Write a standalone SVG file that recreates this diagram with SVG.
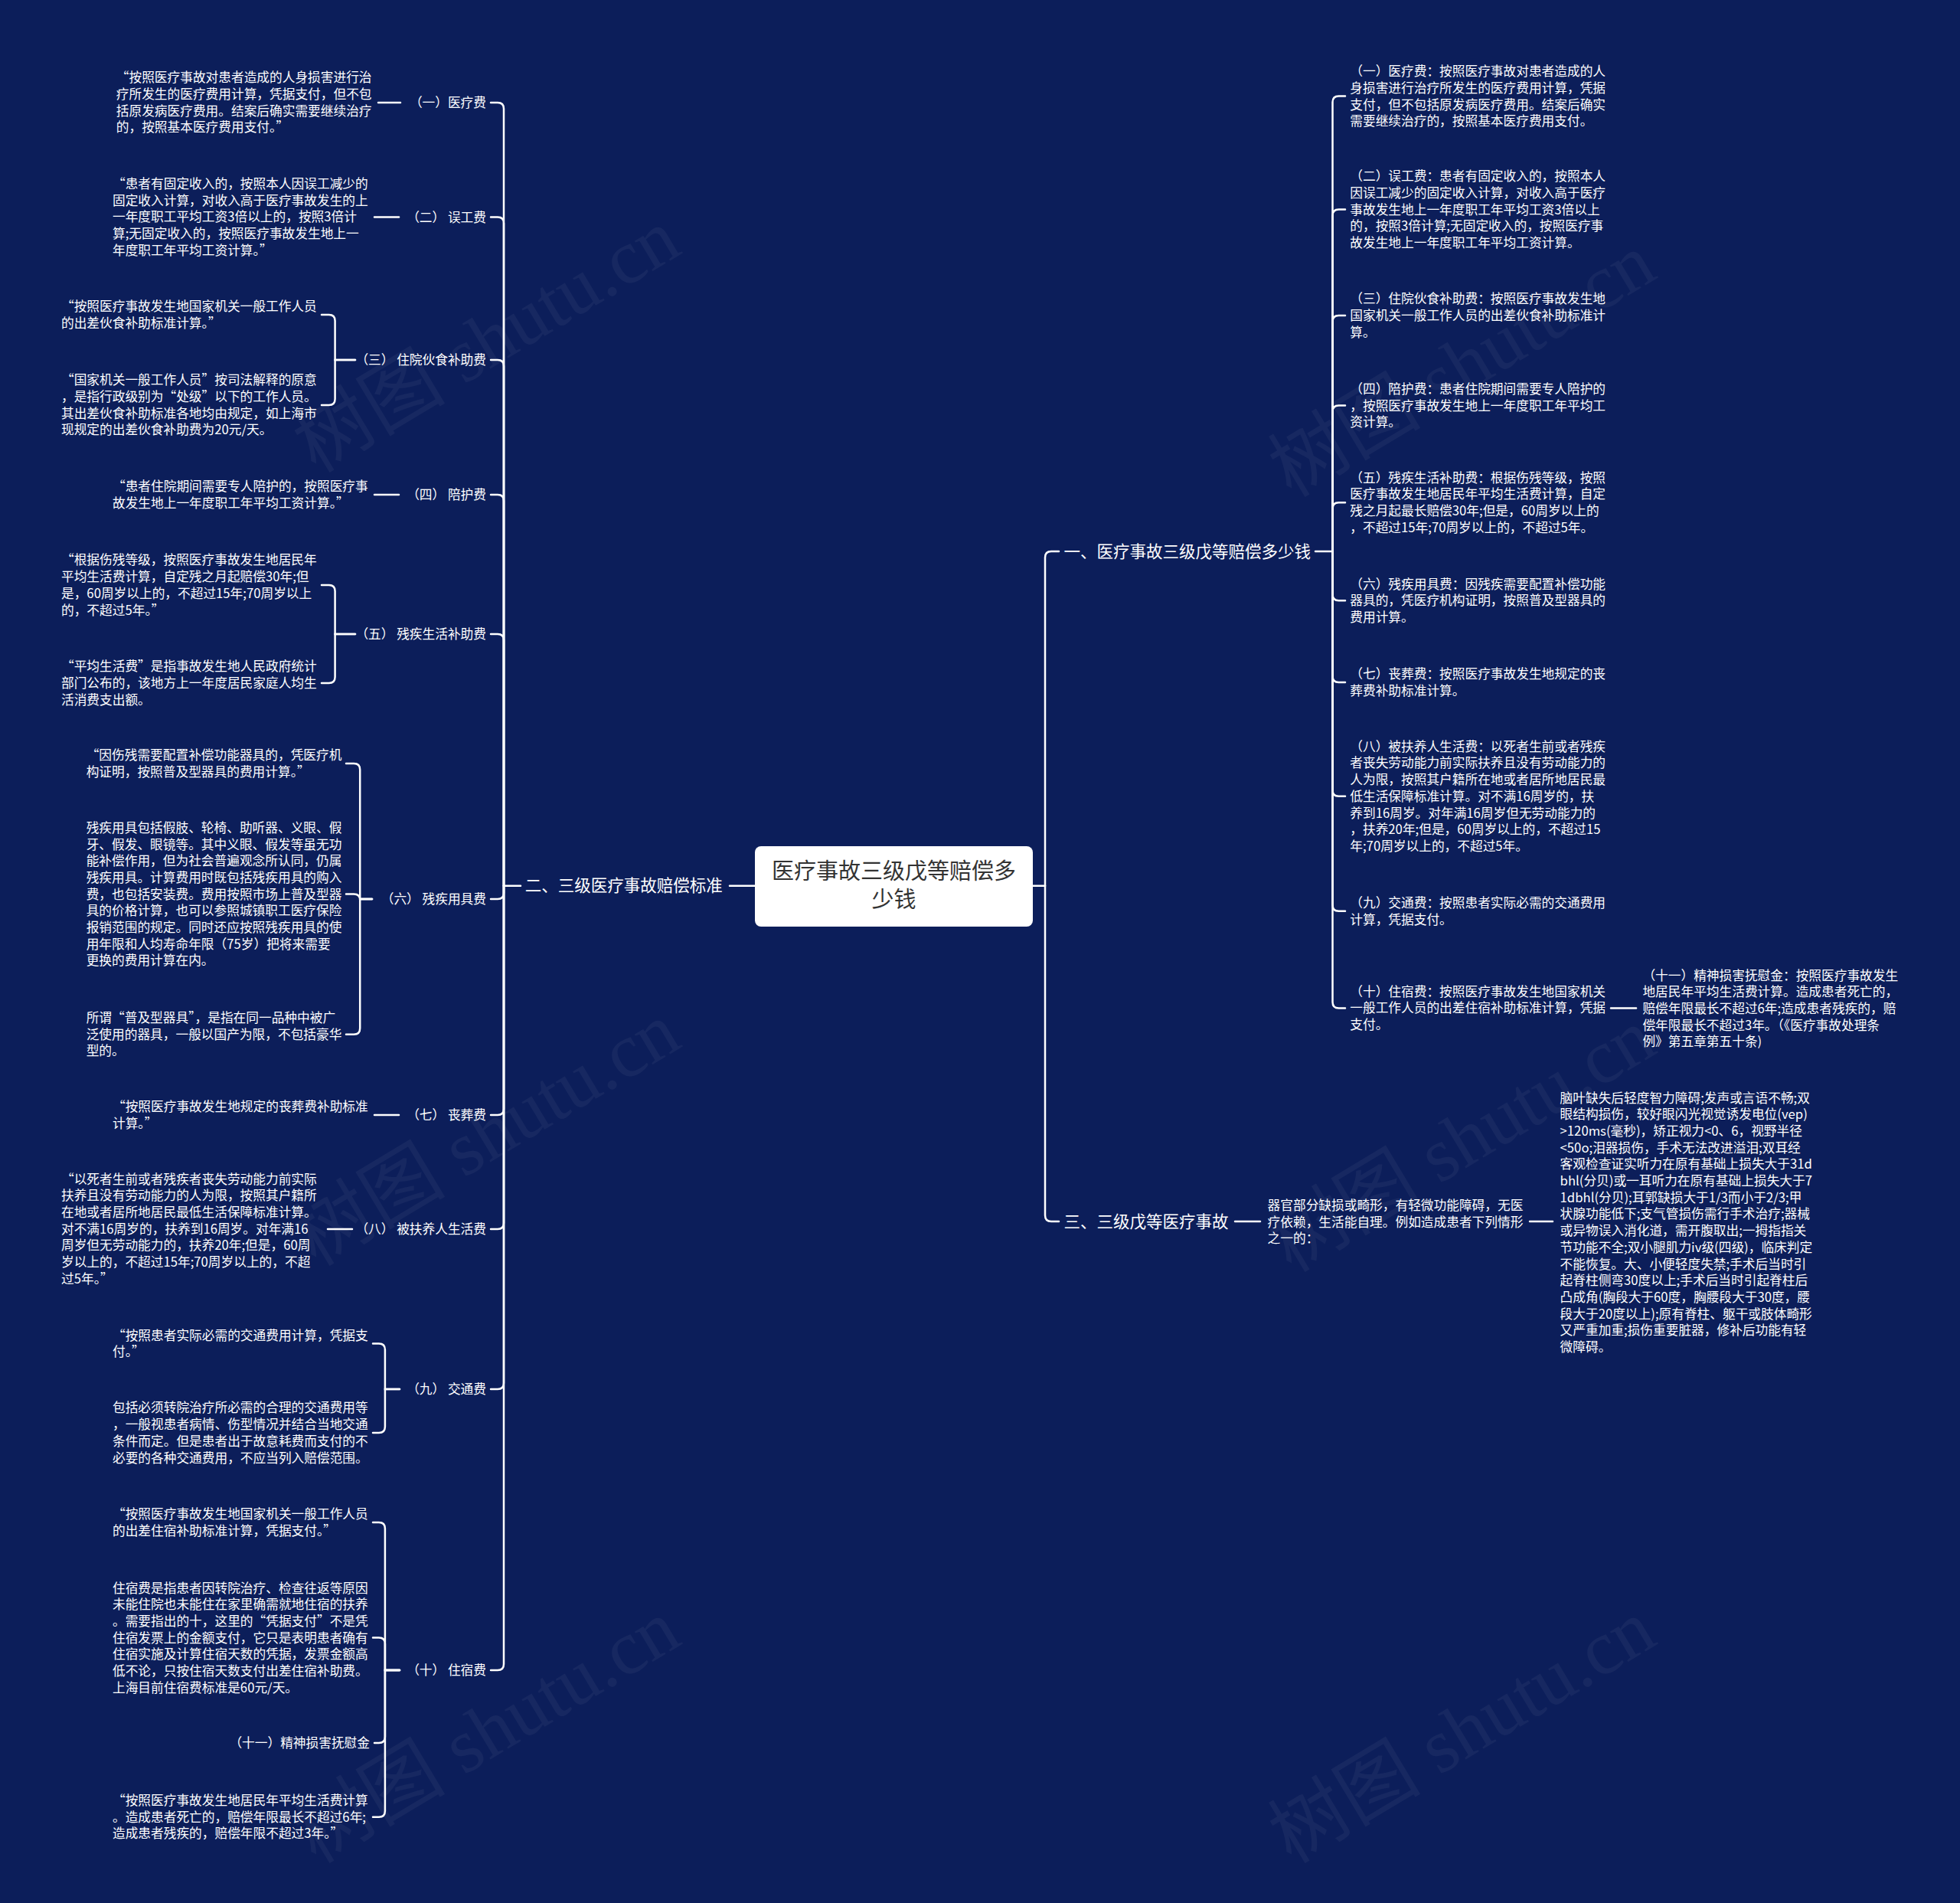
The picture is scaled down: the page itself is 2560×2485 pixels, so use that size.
<svg xmlns="http://www.w3.org/2000/svg" width="2560" height="2485" viewBox="0 0 2560 2485">
<style>
.bg{fill:#0c1e5a}
.t{font-family:"Noto Sans CJK SC","Noto Sans",sans-serif;font-size:16.7px;fill:#ffffff}
.lab{font-family:"Noto Sans CJK SC","Noto Sans",sans-serif;font-size:16.7px;fill:#ffffff;text-anchor:end}
.br{font-family:"Noto Sans CJK SC","Noto Sans",sans-serif;font-size:21.5px;fill:#ffffff}
.ctr{font-family:"Noto Sans CJK SC","Noto Sans",sans-serif;font-size:29px;fill:#333333;text-anchor:middle}
.wm{font-family:"Liberation Serif","Noto Sans CJK SC",serif;font-size:100px;fill:#ffffff;opacity:0.045}
.ln{fill:none;stroke:#ffffff;stroke-width:2.5;stroke-linecap:round}
</style>
<rect class="bg" x="0" y="0" width="2560" height="2485"/>
<g id="watermarks">
<text class="wm" x="653" y="474" text-anchor="middle" transform="rotate(-31 653 474)">树图 shutu.cn</text>
<text class="wm" x="1927" y="506" text-anchor="middle" transform="rotate(-31 1927 506)">树图 shutu.cn</text>
<text class="wm" x="653" y="1510" text-anchor="middle" transform="rotate(-31 653 1510)">树图 shutu.cn</text>
<text class="wm" x="1927" y="1518" text-anchor="middle" transform="rotate(-31 1927 1518)">树图 shutu.cn</text>
<text class="wm" x="653" y="2290" text-anchor="middle" transform="rotate(-31 653 2290)">树图 shutu.cn</text>
<text class="wm" x="1927" y="2290" text-anchor="middle" transform="rotate(-31 1927 2290)">树图 shutu.cn</text>
</g>
<g id="connectors">
<path class="ln" d="M986,1156.7 H953"/>
<path class="ln" d="M1349,1156.7 H1365"/>
<path class="ln" d="M1365,1156.7 V728 Q1365,720 1373,720 H1383"/>
<path class="ln" d="M1365,1156.7 V1587 Q1365,1595 1373,1595 H1383"/>
<path class="ln" d="M680,1156.7 H658"/>
<path class="ln" d="M658,1156.7 V142 Q658,134 650,134 H641"/>
<path class="ln" d="M658,1156.7 V291.5 Q658,283.5 650,283.5 H641"/>
<path class="ln" d="M658,1156.7 V478 Q658,470 650,470 H641"/>
<path class="ln" d="M658,1156.7 V654 Q658,646 650,646 H641"/>
<path class="ln" d="M658,1156.7 V836 Q658,828 650,828 H641"/>
<path class="ln" d="M658,1156.7 V1166 Q658,1174 650,1174 H641"/>
<path class="ln" d="M658,1156.7 V1448 Q658,1456 650,1456 H641"/>
<path class="ln" d="M658,1156.7 V1597 Q658,1605 650,1605 H641"/>
<path class="ln" d="M658,1156.7 V1806 Q658,1814 650,1814 H641"/>
<path class="ln" d="M658,1156.7 V2173 Q658,2181 650,2181 H641"/>
<path class="ln" d="M494,134 H523"/>
<path class="ln" d="M489,283.5 H521"/>
<path class="ln" d="M489,646 H521"/>
<path class="ln" d="M489,1456 H521"/>
<path class="ln" d="M428,1605 H460"/>
<path class="ln" d="M464,470 H437.6 V419 Q437.6,411 429.6,411 H420"/>
<path class="ln" d="M464,470 H437.6 V521 Q437.6,529 429.6,529 H420"/>
<path class="ln" d="M464,828 H437.6 V772 Q437.6,764 429.6,764 H420"/>
<path class="ln" d="M464,828 H437.6 V884 Q437.6,892 429.6,892 H420"/>
<path class="ln" d="M486,1174 H470.2 V1005 Q470.2,997 462.2,997 H452"/>
<path class="ln" d="M486,1174 H470.2 V1175.6 Q470.2,1167.6 462.2,1167.6 H452"/>
<path class="ln" d="M486,1174 H470.2 V1342.7 Q470.2,1350.7 462.2,1350.7 H452"/>
<path class="ln" d="M522,1814 H502.9 V1762.6 Q502.9,1754.6 494.9,1754.6 H487"/>
<path class="ln" d="M522,1814 H502.9 V1863 Q502.9,1871 494.9,1871 H487"/>
<path class="ln" d="M522,2181 H502.9 V1996 Q502.9,1988 494.9,1988 H487"/>
<path class="ln" d="M522,2181 H502.9 V2146.6 Q502.9,2138.6 494.9,2138.6 H487"/>
<path class="ln" d="M522,2181 H502.9 V2267.9 Q502.9,2275.9 494.9,2275.9 H489"/>
<path class="ln" d="M522,2181 H502.9 V2364.7 Q502.9,2372.7 494.9,2372.7 H487"/>
<path class="ln" d="M1718,720 H1740.5"/>
<path class="ln" d="M1740.5,720 V133.6 Q1740.5,125.6 1748.5,125.6 H1757"/>
<path class="ln" d="M1740.5,720 V281.6 Q1740.5,273.6 1748.5,273.6 H1757"/>
<path class="ln" d="M1740.5,720 V419.9 Q1740.5,411.9 1748.5,411.9 H1757"/>
<path class="ln" d="M1740.5,720 V537.5 Q1740.5,529.5 1748.5,529.5 H1757"/>
<path class="ln" d="M1740.5,720 V664.2 Q1740.5,656.2 1748.5,656.2 H1757"/>
<path class="ln" d="M1740.5,720 V776.2 Q1740.5,784.2 1748.5,784.2 H1757"/>
<path class="ln" d="M1740.5,720 V882.9 Q1740.5,890.9 1748.5,890.9 H1757"/>
<path class="ln" d="M1740.5,720 V1031.8 Q1740.5,1039.8 1748.5,1039.8 H1757"/>
<path class="ln" d="M1740.5,720 V1181.7 Q1740.5,1189.7 1748.5,1189.7 H1757"/>
<path class="ln" d="M1740.5,720 V1308.4 Q1740.5,1316.4 1748.5,1316.4 H1757"/>
<path class="ln" d="M2104,1316.4 H2137"/>
<path class="ln" d="M1613,1595 H1646"/>
<path class="ln" d="M1998,1595 H2028"/>
</g>
<g id="center">
<rect x="986" y="1105" width="363" height="105" rx="8" fill="#ffffff"/>
<text class="ctr" x="1167.5" y="1148">医疗事故三级戊等赔偿多</text>
<text class="ctr" x="1167.5" y="1185">少钱</text>
</g>
<g id="branch-left">
<text class="br" x="685.7" y="1164.4">二、三级医疗事故赔偿标准</text>
</g>
<g id="branch-right-1">
<text class="br" x="1389.4" y="727.7">一、医疗事故三级戊等赔偿多少钱</text>
</g>
<g id="branch-right-3">
<text class="br" x="1389.4" y="1602.7">三、三级戊等医疗事故</text>
</g>
<g id="left-labels">
<text class="lab" x="635" y="140">（一）医疗费</text>
<text class="lab" x="635" y="289.5">（二） 误工费</text>
<text class="lab" x="635" y="476">（三） 住院伙食补助费</text>
<text class="lab" x="635" y="652">（四） 陪护费</text>
<text class="lab" x="635" y="834">（五） 残疾生活补助费</text>
<text class="lab" x="635" y="1180">（六） 残疾用具费</text>
<text class="lab" x="635" y="1462">（七） 丧葬费</text>
<text class="lab" x="635" y="1611">（八） 被扶养人生活费</text>
<text class="lab" x="635" y="1820">（九） 交通费</text>
<text class="lab" x="635" y="2187">（十） 住宿费</text>
</g>
<g id="leaf-1"><text class="t" x="151.8" y="107.2"><tspan x="151.8">“按照医疗事故对患者造成的人身损害进行治</tspan><tspan x="151.8" dy="21.7">疗所发生的医疗费用计算，凭据支付，但不包</tspan><tspan x="151.8" dy="21.7">括原发病医疗费用。结案后确实需要继续治疗</tspan><tspan x="151.8" dy="21.7">的，按照基本医疗费用支付。”</tspan></text></g>
<g id="leaf-2"><text class="t" x="147" y="246"><tspan x="147">“患者有固定收入的，按照本人因误工减少的</tspan><tspan x="147" dy="21.7">固定收入计算，对收入高于医疗事故发生的上</tspan><tspan x="147" dy="21.7">一年度职工平均工资3倍以上的，按照3倍计</tspan><tspan x="147" dy="21.7">算;无固定收入的，按照医疗事故发生地上一</tspan><tspan x="147" dy="21.7">年度职工年平均工资计算。”</tspan></text></g>
<g id="leaf-3a"><text class="t" x="80" y="406"><tspan x="80">“按照医疗事故发生地国家机关一般工作人员</tspan><tspan x="80" dy="21.7">的出差伙食补助标准计算。”</tspan></text></g>
<g id="leaf-3b"><text class="t" x="80" y="502.3"><tspan x="80">“国家机关一般工作人员”按司法解释的原意</tspan><tspan x="80" dy="21.7">，是指行政级别为“处级”以下的工作人员。</tspan><tspan x="80" dy="21.7">其出差伙食补助标准各地均由规定，如上海市</tspan><tspan x="80" dy="21.7">现规定的出差伙食补助费为20元/天。</tspan></text></g>
<g id="leaf-4"><text class="t" x="147" y="641.1"><tspan x="147">“患者住院期间需要专人陪护的，按照医疗事</tspan><tspan x="147" dy="21.7">故发生地上一年度职工年平均工资计算。”</tspan></text></g>
<g id="leaf-5a"><text class="t" x="80" y="737.4"><tspan x="80">“根据伤残等级，按照医疗事故发生地居民年</tspan><tspan x="80" dy="21.7">平均生活费计算，自定残之月起赔偿30年;但</tspan><tspan x="80" dy="21.7">是，60周岁以上的，不超过15年;70周岁以上</tspan><tspan x="80" dy="21.7">的，不超过5年。”</tspan></text></g>
<g id="leaf-5b"><text class="t" x="80" y="876.2"><tspan x="80">“平均生活费”是指事故发生地人民政府统计</tspan><tspan x="80" dy="21.7">部门公布的，该地方上一年度居民家庭人均生</tspan><tspan x="80" dy="21.7">活消费支出额。</tspan></text></g>
<g id="leaf-6a"><text class="t" x="112.7" y="992.2"><tspan x="112.7">“因伤残需要配置补偿功能器具的，凭医疗机</tspan><tspan x="112.7" dy="21.7">构证明，按照普及型器具的费用计算。”</tspan></text></g>
<g id="leaf-6b"><text class="t" x="112.7" y="1086.8"><tspan x="112.7">残疾用具包括假肢、轮椅、助听器、义眼、假</tspan><tspan x="112.7" dy="21.7">牙、假发、眼镜等。其中义眼、假发等虽无功</tspan><tspan x="112.7" dy="21.7">能补偿作用，但为社会普遍观念所认同，仍属</tspan><tspan x="112.7" dy="21.7">残疾用具。计算费用时既包括残疾用具的购入</tspan><tspan x="112.7" dy="21.7">费，也包括安装费。费用按照市场上普及型器</tspan><tspan x="112.7" dy="21.7">具的价格计算，也可以参照城镇职工医疗保险</tspan><tspan x="112.7" dy="21.7">报销范围的规定。同时还应按照残疾用具的使</tspan><tspan x="112.7" dy="21.7">用年限和人均寿命年限（75岁）把将来需要</tspan><tspan x="112.7" dy="21.7">更换的费用计算在内。</tspan></text></g>
<g id="leaf-6c"><text class="t" x="112.7" y="1335"><tspan x="112.7">所谓“普及型器具”，是指在同一品种中被广</tspan><tspan x="112.7" dy="21.7">泛使用的器具，一般以国产为限，不包括豪华</tspan><tspan x="112.7" dy="21.7">型的。</tspan></text></g>
<g id="leaf-7"><text class="t" x="147" y="1450.9"><tspan x="147">“按照医疗事故发生地规定的丧葬费补助标准</tspan><tspan x="147" dy="21.7">计算。”</tspan></text></g>
<g id="leaf-8"><text class="t" x="80" y="1545.6"><tspan x="80">“以死者生前或者残疾者丧失劳动能力前实际</tspan><tspan x="80" dy="21.7">扶养且没有劳动能力的人为限，按照其户籍所</tspan><tspan x="80" dy="21.7">在地或者居所地居民最低生活保障标准计算。</tspan><tspan x="80" dy="21.7">对不满16周岁的，扶养到16周岁。对年满16</tspan><tspan x="80" dy="21.7">周岁但无劳动能力的，扶养20年;但是，60周</tspan><tspan x="80" dy="21.7">岁以上的，不超过15年;70周岁以上的，不超</tspan><tspan x="80" dy="21.7">过5年。”</tspan></text></g>
<g id="leaf-9a"><text class="t" x="147" y="1749.7"><tspan x="147">“按照患者实际必需的交通费用计算，凭据支</tspan><tspan x="147" dy="21.7">付。”</tspan></text></g>
<g id="leaf-9b"><text class="t" x="147" y="1844.4"><tspan x="147">包括必须转院治疗所必需的合理的交通费用等</tspan><tspan x="147" dy="21.7">，一般视患者病情、伤型情况并结合当地交通</tspan><tspan x="147" dy="21.7">条件而定。但是患者出于故意耗费而支付的不</tspan><tspan x="147" dy="21.7">必要的各种交通费用，不应当列入赔偿范围。</tspan></text></g>
<g id="leaf-10a"><text class="t" x="147" y="1983.2"><tspan x="147">“按照医疗事故发生地国家机关一般工作人员</tspan><tspan x="147" dy="21.7">的出差住宿补助标准计算，凭据支付。”</tspan></text></g>
<g id="leaf-10b"><text class="t" x="147" y="2079.5"><tspan x="147">住宿费是指患者因转院治疗、检查往返等原因</tspan><tspan x="147" dy="21.7">未能住院也未能住在家里确需就地住宿的扶养</tspan><tspan x="147" dy="21.7">。需要指出的十，这里的“凭据支付”不是凭</tspan><tspan x="147" dy="21.7">住宿发票上的金额支付，它只是表明患者确有</tspan><tspan x="147" dy="21.7">住宿实施及计算住宿天数的凭据，发票金额高</tspan><tspan x="147" dy="21.7">低不论，只按住宿天数支付出差住宿补助费。</tspan><tspan x="147" dy="21.7">上海目前住宿费标准是60元/天。</tspan></text></g>
<g id="leaf-10c"><text class="lab" x="483" y="2281.9">（十一）精神损害抚慰金</text></g>
<g id="leaf-10d"><text class="t" x="147" y="2357"><tspan x="147">“按照医疗事故发生地居民年平均生活费计算</tspan><tspan x="147" dy="21.7">。造成患者死亡的，赔偿年限最长不超过6年;</tspan><tspan x="147" dy="21.7">造成患者残疾的，赔偿年限不超过3年。”</tspan></text></g>
<g id="right-1"><text class="t" x="1763.3" y="99.1"><tspan x="1763.3">（一）医疗费：按照医疗事故对患者造成的人</tspan><tspan x="1763.3" dy="21.7">身损害进行治疗所发生的医疗费用计算，凭据</tspan><tspan x="1763.3" dy="21.7">支付，但不包括原发病医疗费用。结案后确实</tspan><tspan x="1763.3" dy="21.7">需要继续治疗的，按照基本医疗费用支付。</tspan></text></g>
<g id="right-2"><text class="t" x="1763.3" y="236.2"><tspan x="1763.3">（二）误工费：患者有固定收入的，按照本人</tspan><tspan x="1763.3" dy="21.7">因误工减少的固定收入计算，对收入高于医疗</tspan><tspan x="1763.3" dy="21.7">事故发生地上一年度职工年平均工资3倍以上</tspan><tspan x="1763.3" dy="21.7">的，按照3倍计算;无固定收入的，按照医疗事</tspan><tspan x="1763.3" dy="21.7">故发生地上一年度职工年平均工资计算。</tspan></text></g>
<g id="right-3"><text class="t" x="1763.3" y="396.2"><tspan x="1763.3">（三）住院伙食补助费：按照医疗事故发生地</tspan><tspan x="1763.3" dy="21.7">国家机关一般工作人员的出差伙食补助标准计</tspan><tspan x="1763.3" dy="21.7">算。</tspan></text></g>
<g id="right-4"><text class="t" x="1763.3" y="513.8"><tspan x="1763.3">（四）陪护费：患者住院期间需要专人陪护的</tspan><tspan x="1763.3" dy="21.7">，按照医疗事故发生地上一年度职工年平均工</tspan><tspan x="1763.3" dy="21.7">资计算。</tspan></text></g>
<g id="right-5"><text class="t" x="1763.3" y="629.7"><tspan x="1763.3">（五）残疾生活补助费：根据伤残等级，按照</tspan><tspan x="1763.3" dy="21.7">医疗事故发生地居民年平均生活费计算，自定</tspan><tspan x="1763.3" dy="21.7">残之月起最长赔偿30年;但是，60周岁以上的</tspan><tspan x="1763.3" dy="21.7">，不超过15年;70周岁以上的，不超过5年。</tspan></text></g>
<g id="right-6"><text class="t" x="1763.3" y="768.5"><tspan x="1763.3">（六）残疾用具费：因残疾需要配置补偿功能</tspan><tspan x="1763.3" dy="21.7">器具的，凭医疗机构证明，按照普及型器具的</tspan><tspan x="1763.3" dy="21.7">费用计算。</tspan></text></g>
<g id="right-7"><text class="t" x="1763.3" y="886"><tspan x="1763.3">（七）丧葬费：按照医疗事故发生地规定的丧</tspan><tspan x="1763.3" dy="21.7">葬费补助标准计算。</tspan></text></g>
<g id="right-8"><text class="t" x="1763.3" y="980.7"><tspan x="1763.3">（八）被扶养人生活费：以死者生前或者残疾</tspan><tspan x="1763.3" dy="21.7">者丧失劳动能力前实际扶养且没有劳动能力的</tspan><tspan x="1763.3" dy="21.7">人为限，按照其户籍所在地或者居所地居民最</tspan><tspan x="1763.3" dy="21.7">低生活保障标准计算。对不满16周岁的，扶</tspan><tspan x="1763.3" dy="21.7">养到16周岁。对年满16周岁但无劳动能力的</tspan><tspan x="1763.3" dy="21.7">，扶养20年;但是，60周岁以上的，不超过15</tspan><tspan x="1763.3" dy="21.7">年;70周岁以上的，不超过5年。</tspan></text></g>
<g id="right-9"><text class="t" x="1763.3" y="1184.8"><tspan x="1763.3">（九）交通费：按照患者实际必需的交通费用</tspan><tspan x="1763.3" dy="21.7">计算，凭据支付。</tspan></text></g>
<g id="right-10"><text class="t" x="1763.3" y="1300.7"><tspan x="1763.3">（十）住宿费：按照医疗事故发生地国家机关</tspan><tspan x="1763.3" dy="21.7">一般工作人员的出差住宿补助标准计算，凭据</tspan><tspan x="1763.3" dy="21.7">支付。</tspan></text></g>
<g id="right-11"><text class="t" x="2145.4" y="1279.5"><tspan x="2145.4">（十一）精神损害抚慰金：按照医疗事故发生</tspan><tspan x="2145.4" dy="21.7">地居民年平均生活费计算。造成患者死亡的，</tspan><tspan x="2145.4" dy="21.7">赔偿年限最长不超过6年;造成患者残疾的，赔</tspan><tspan x="2145.4" dy="21.7">偿年限最长不超过3年。（《医疗事故处理条</tspan><tspan x="2145.4" dy="21.7">例》第五章第五十条)</tspan></text></g>
<g id="three-1"><text class="t" x="1655.6" y="1579.9"><tspan x="1655.6">器官部分缺损或畸形，有轻微功能障碍，无医</tspan><tspan x="1655.6" dy="21.7">疗依赖，生活能自理。例如造成患者下列情形</tspan><tspan x="1655.6" dy="21.7">之一的：</tspan></text></g>
<g id="three-2"><text class="t" x="2037.6" y="1439.5"><tspan x="2037.6">脑叶缺失后轻度智力障碍;发声或言语不畅;双</tspan><tspan x="2037.6" dy="21.7">眼结构损伤，较好眼闪光视觉诱发电位(vep)</tspan><tspan x="2037.6" dy="21.7">&gt;120ms(毫秒)，矫正视力&lt;0、6，视野半径</tspan><tspan x="2037.6" dy="21.7">&lt;50o;泪器损伤，手术无法改进溢泪;双耳经</tspan><tspan x="2037.6" dy="21.7">客观检查证实听力在原有基础上损失大于31d</tspan><tspan x="2037.6" dy="21.7">bhl(分贝)或一耳听力在原有基础上损失大于7</tspan><tspan x="2037.6" dy="21.7">1dbhl(分贝);耳郭缺损大于1/3而小于2/3;甲</tspan><tspan x="2037.6" dy="21.7">状腺功能低下;支气管损伤需行手术治疗;器械</tspan><tspan x="2037.6" dy="21.7">或异物误入消化道，需开腹取出;一拇指指关</tspan><tspan x="2037.6" dy="21.7">节功能不全;双小腿肌力iv级(四级)，临床判定</tspan><tspan x="2037.6" dy="21.7">不能恢复。大、小便轻度失禁;手术后当时引</tspan><tspan x="2037.6" dy="21.7">起脊柱侧弯30度以上;手术后当时引起脊柱后</tspan><tspan x="2037.6" dy="21.7">凸成角(胸段大于60度，胸腰段大于30度，腰</tspan><tspan x="2037.6" dy="21.7">段大于20度以上);原有脊柱、躯干或肢体畸形</tspan><tspan x="2037.6" dy="21.7">又严重加重;损伤重要脏器，修补后功能有轻</tspan><tspan x="2037.6" dy="21.7">微障碍。</tspan></text></g>
</svg>
